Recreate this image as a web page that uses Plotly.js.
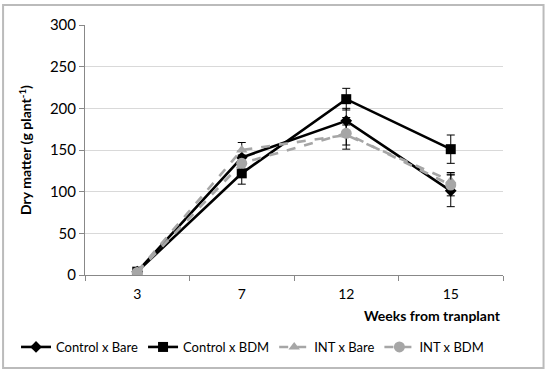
<!DOCTYPE html>
<html><head><meta charset="utf-8">
<script src="https://cdn.plot.ly/plotly-3.0.1.min.js"></script>
<style>html,body{margin:0;padding:0;background:#fff}#chart{width:550px;height:375px}</style>
</head><body><div id="chart"></div>
<script>
const weeks = ["3","7","12","15"];
const controlBare = [4, 141, 185, 101];
const controlBareErr = [2, 8, 15, 19];
const controlBDM = [4, 122, 211, 151];
const controlBDMErr = [2, 13, 13, 17];
const intBare = [4, 150, 168, 113];
const intBareErr = [2, 9, 12, 10];
const intBDM = [3, 134, 170, 108];
const intBDMErr = [2, 10, 19, 13];

const font = "Lato, Open Sans, sans-serif";
function tr(name, y, err, sym, size, color, dash) {
  return {
    type: "scatter", mode: "lines+markers", name: name, x: weeks, y: y,
    line: {color: color, width: 2.6, dash: dash},
    marker: {symbol: sym, size: size, color: color},
    error_y: {type: "data", array: err, visible: true, color: "#000", thickness: 1, width: 4}
  };
}
const data = [
  tr("Control x Bare", controlBare, controlBareErr, "diamond", 9, "#000", "solid"),
  tr("Control x BDM", controlBDM, controlBDMErr, "square", 10, "#000", "solid"),
  tr("INT x Bare", intBare, intBareErr, "triangle-up", 10, "#a6a6a6", "dash"),
  tr("INT x BDM", intBDM, intBDMErr, "circle", 11, "#a6a6a6", "dash")
];
const layout = {
  width: 550, height: 375,
  margin: {l: 85, r: 47, t: 25, b: 100, autoexpand: false},
  paper_bgcolor: "#fff", plot_bgcolor: "#fff",
  font: {family: font, size: 14, color: "#000"},
  showlegend: true,
  legend: {orientation: "h", x: -0.165, xanchor: "left",
           y: -0.288, yanchor: "middle", font: {size: 13}, tracegroupgap: 0},
  xaxis: {type: "category", range: [-0.5, 3.5], tickson: "boundaries",
          ticks: "outside", ticklen: 5, tickcolor: "#888", showgrid: false,
          showline: true, linecolor: "#888", linewidth: 1, zeroline: false,
          tickfont: {size: 14}, ticklabelstandoff: 6},
  yaxis: {range: [0, 300], dtick: 50, showgrid: true, gridcolor: "#d9d9d9",
          ticks: "outside", ticklen: 5, tickcolor: "#888", showline: true, linecolor: "#888",
          zeroline: false, tickfont: {size: 15},
          title: {text: "<b>Dry matter (g plant<sup>-1</sup>)</b>", font: {size: 14}, standoff: 14}},
  annotations: [{xref: "paper", yref: "paper", x: 1.0, y: -0.16, xanchor: "right", yanchor: "middle",
                 showarrow: false, text: "<b>Weeks from tranplant</b>", font: {size: 14}}],
  shapes: [{type: "rect", xref: "paper", yref: "paper", x0: -0.196, x1: 1.097, y0: -0.372, y1: 1.08,
            line: {color: "#bbb", width: 2}}]
};
Plotly.newPlot("chart", data, layout, {displayModeBar: false, staticPlot: true});
</script></body></html>
